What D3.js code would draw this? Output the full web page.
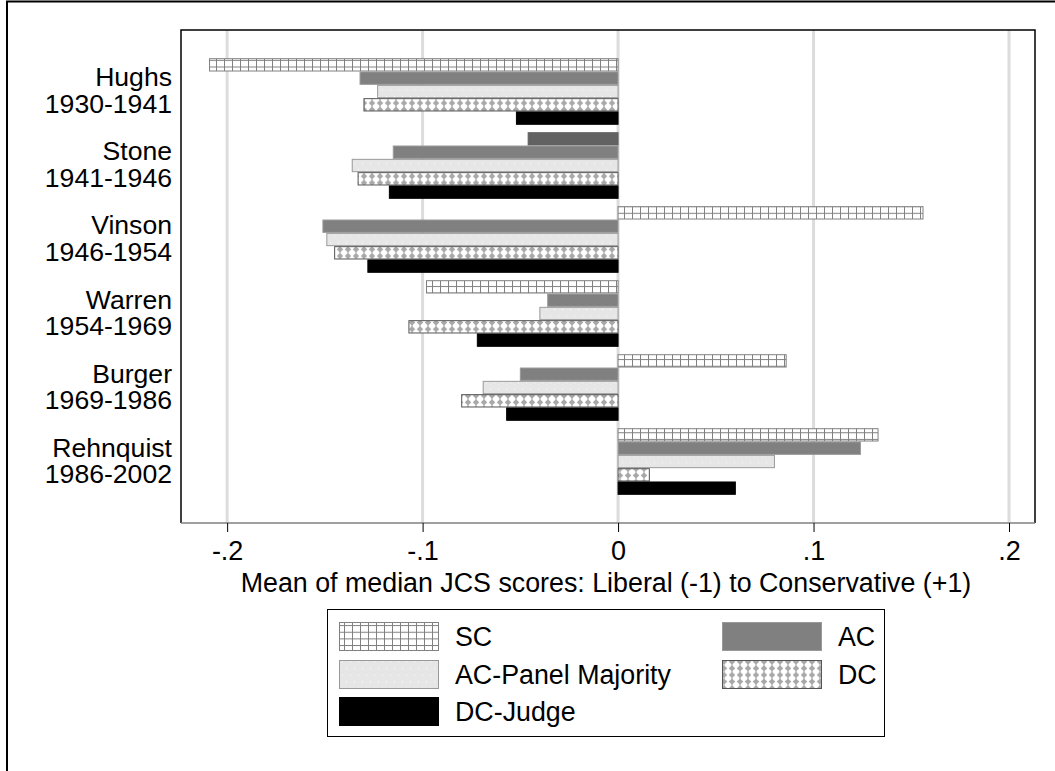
<!DOCTYPE html>
<html><head><meta charset="utf-8">
<script src="https://cdn.jsdelivr.net/npm/d3@7"></script>
<style>body{margin:0;background:#fff}svg{display:block}text{font-family:"Liberation Sans",Arial,sans-serif;fill:#000}</style>
</head><body>
<svg id="c" width="1055" height="771"></svg>
<script>
const categories = ["Hughs|1930-1941","Stone|1941-1946","Vinson|1946-1954","Warren|1954-1969","Burger|1969-1986","Rehnquist|1986-2002"];
const seriesNames = ["SC","AC","AC-Panel Majority","DC","DC-Judge"];
const SC   = [-0.209, -0.046, 0.156, -0.098, 0.086, 0.133];
const AC   = [-0.132, -0.115, -0.151, -0.036, -0.050, 0.124];
const ACPM = [-0.123, -0.136, -0.149, -0.040, -0.069, 0.080];
const DC   = [-0.130, -0.133, -0.145, -0.107, -0.080, 0.016];
const DCJ  = [-0.052, -0.117, -0.128, -0.072, -0.057, 0.060];
const xTicks = [-0.2, -0.1, 0, 0.1, 0.2];
const xTickLabels = ["-.2", "-.1", "0", ".1", ".2"];
const xTitle = "Mean of median JCS scores: Liberal (-1) to Conservative (+1)";

const values = [SC, AC, ACPM, DC, DCJ];
const svg = d3.select("#c");
const defs = svg.append("defs");

// patterns
const pSC = defs.append("pattern").attr("id","pSC").attr("patternUnits","userSpaceOnUse").attr("width",8).attr("height",6.65);
pSC.append("rect").attr("width",8).attr("height",6.65).attr("fill","#fff");
pSC.append("line").attr("x1",0.5).attr("x2",0.5).attr("y1",0).attr("y2",6.65).attr("stroke","#808080").attr("stroke-width",1);
pSC.append("line").attr("x1",0).attr("x2",8).attr("y1",0.5).attr("y2",0.5).attr("stroke","#808080").attr("stroke-width",1);

const pAP = defs.append("pattern").attr("id","pAP").attr("patternUnits","userSpaceOnUse").attr("width",16).attr("height",13.3);
pAP.append("rect").attr("width",16).attr("height",13.3).attr("fill","#e6e6e6");
[[2,3],[10,3],[6,9.7],[14,9.7]].forEach(([x,y])=>pAP.append("rect").attr("x",x).attr("y",y).attr("width",1).attr("height",1).attr("fill","#fff"));

const pDC = defs.append("pattern").attr("id","pDC").attr("patternUnits","userSpaceOnUse").attr("width",8).attr("height",6.65);
pDC.append("rect").attr("width",8).attr("height",6.65).attr("fill","#fff");
pDC.append("path").attr("d","M4,0.3 L7.3,3.3 L4,6.3 L0.7,3.3 Z").attr("fill","#a8a8a8");
pDC.append("rect").attr("x",3.5).attr("y",0).attr("width",1).attr("height",6.65).attr("fill","#a8a8a8");

const fills = ["url(#pSC)","#808080","url(#pAP)","url(#pDC)","#000"];
const strokes = ["#808080","#999","#999","#555","#000"];

// outer frame
svg.append("path").attr("d","M7,771 L7,1.5 L1055,1.5").attr("fill","none").attr("stroke","#000").attr("stroke-width",2);

const L = 181, R = 1035, T = 30, B = 523;
const x = d3.scaleLinear().domain([-0.2236, 0.2133]).range([L, R]);
const y0 = d3.scaleBand().domain(categories).range([T, B]).paddingInner(0.1).paddingOuter(0.381);
const y1 = d3.scaleBand().domain(seriesNames).range([0, y0.bandwidth()]);

// grid
svg.append("g").selectAll("line").data(xTicks).join("line")
  .attr("x1",d=>x(d)).attr("x2",d=>x(d)).attr("y1",T).attr("y2",B)
  .attr("stroke","#dcdcdc").attr("stroke-width",3);

// bars
const g = svg.append("g");
categories.forEach((c,ci)=>{
  seriesNames.forEach((s,si)=>{
    const v = values[si][ci];
    let fill = fills[si], stroke = strokes[si];
    if (si===0 && ci===1) { fill = "#626262"; stroke = "#626262"; }
    g.append("rect")
      .attr("x", Math.min(x(0), x(v)))
      .attr("y", y0(c) + y1(s) + 0.5)
      .attr("width", Math.abs(x(v) - x(0)))
      .attr("height", y1.bandwidth() - 1)
      .attr("fill", fill).attr("stroke", stroke).attr("stroke-width", 1);
  });
});

// plot frame
svg.append("path").attr("d",`M${L},${B} L${L},${T} L${R},${T} L${R},${B}`).attr("fill","none").attr("stroke","#000").attr("stroke-width",1.5);
svg.append("line").attr("x1",L).attr("x2",R).attr("y1",B).attr("y2",B).attr("stroke","#808080").attr("stroke-width",1.5);

// x axis
const xa = svg.append("g").attr("transform",`translate(0,${B})`)
  .call(d3.axisBottom(x).tickValues(xTicks).tickFormat((d,i)=>xTickLabels[i]).tickSize(9).tickPadding(9));
xa.select(".domain").remove();
xa.selectAll(".tick line").attr("stroke","#000");
xa.selectAll(".tick text").attr("font-size",27).attr("font-family","Liberation Sans, Arial, sans-serif").attr("fill","#000");

svg.append("text").attr("x",(L+R)/2-2).attr("y",592).attr("text-anchor","middle").attr("font-size",26.8).text(xTitle);

// category labels
categories.forEach(c=>{
  const [n, yr] = c.split("|");
  const cy = y0(c) + y0.bandwidth()/2;
  const t = svg.append("text").attr("text-anchor","end").attr("font-size",26.6);
  t.append("tspan").attr("x",172).attr("y",cy-5).text(n);
  t.append("tspan").attr("x",172).attr("y",cy+21.5).text(yr);
});

// legend
svg.append("rect").attr("x",327.5).attr("y",609.5).attr("width",557).attr("height",127).attr("fill","#fff").attr("stroke","#000").attr("stroke-width",1);
const legItems = [
  {si:0, col:0, row:0},{si:1, col:1, row:0},
  {si:2, col:0, row:1},{si:3, col:1, row:1},
  {si:4, col:0, row:2}
];
const rowY = [622, 660, 697];
const colX = [339, 722];
legItems.forEach(it=>{
  svg.append("rect").attr("x",colX[it.col]+0.5).attr("y",rowY[it.row]+0.5).attr("width",99).attr("height",28)
    .attr("fill",fills[it.si]).attr("stroke",strokes[it.si]).attr("stroke-width",1);
  svg.append("text").attr("x",colX[it.col]+116).attr("y",rowY[it.row]+24).attr("font-size",26.8).text(seriesNames[it.si]);
});
</script>
</body></html>
